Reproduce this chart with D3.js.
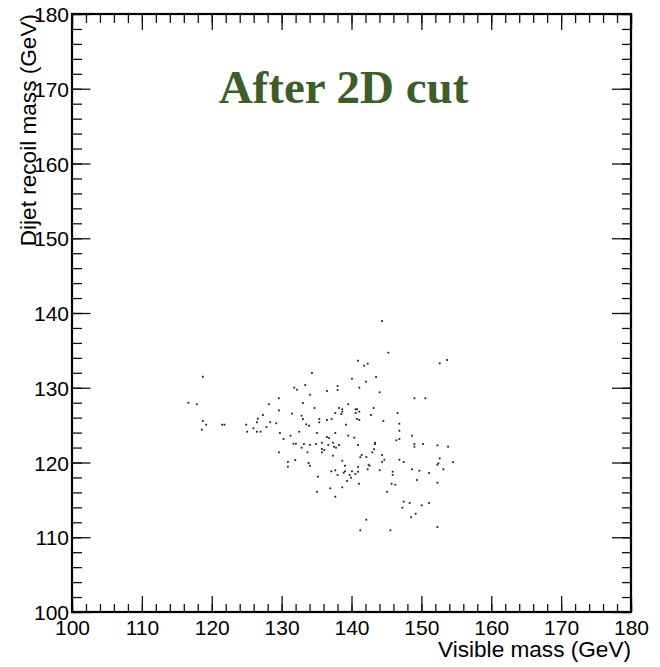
<!DOCTYPE html>
<html><head><meta charset="utf-8">
<script src="https://cdn.jsdelivr.net/npm/d3@7"></script>
<style>html,body{margin:0;padding:0;background:#fff;}</style>
</head><body>
<svg id="c" width="660" height="667"></svg>
<script>
const visibleMass = [118.72,116.66,117.86,118.72,119.20,118.58,121.49,121.82,124.93,125.07,125.97,126.46,126.98,126.60,126.46,127.32,127.84,128.18,128.37,129.23,129.61,129.61,129.76,130.27,129.61,131.81,132.19,131.48,132.52,131.27,131.70,132.05,131.95,130.90,130.90,
144.37,145.27,140.93,141.79,142.31,143.51,140.07,134.34,133.38,138.01,142.08,141.12,138.01,136.49,144.03,134.05,133.05,139.54,134.71,138.21,140.59,140.79,138.68,143.17,141.12,138.68,137.68,140.59,138.54,146.60,132.85,142.79,133.05,135.39,136.49,137.15,140.79,141.12,135.39,144.56,133.52,133.91,139.21,146.85,146.85,
135.06,137.68,139.54,140.40,136.49,136.78,146.85,146.42,143.37,143.37,133.19,134.05,134.91,135.77,137.35,138.21,136.68,137.49,137.78,140.93,132.85,135.77,136.10,143.22,142.98,133.71,135.77,137.35,141.45,141.26,142.12,144.37,144.70,144.37,146.85,138.68,133.85,134.05,139.07,140.93,142.45,142.59,142.31,144.03,
137.11,137.68,139.07,138.87,140.07,140.93,138.01,139.73,140.54,145.89,145.89,139.93,135.20,139.36,141.07,145.74,146.27,138.68,136.96,135.06,145.09,137.68,142.12,141.26,145.56,
153.68,152.62,149.00,150.57,148.67,149.00,149.00,150.24,152.29,153.82,147.46,152.62,152.44,152.29,154.54,148.67,149.71,151.10,153.15,149.38,152.29,147.46,148.32,150.04,151.10,147.28,149.18,148.52,152.29];
const recoilMass = [131.48,128.00,127.79,125.55,125.06,124.39,125.06,125.06,125.06,124.12,124.58,124.12,124.12,125.86,125.38,126.35,124.75,127.79,125.38,125.24,128.59,126.98,123.95,123.14,121.36,130.01,129.74,126.53,124.12,123.59,122.52,122.52,120.33,120.07,119.44,
138.93,134.69,133.62,132.95,133.22,131.44,131.21,131.97,130.37,130.23,130.81,130.01,129.70,129.57,129.39,129.07,127.96,127.79,127.29,127.29,127.12,127.12,127.12,127.29,126.80,126.80,126.62,126.62,126.49,126.62,126.26,126.35,125.82,125.82,125.69,125.82,125.82,125.69,125.38,125.55,125.11,124.92,125.06,125.19,124.25,
123.95,123.95,123.59,123.32,123.41,123.28,123.14,122.97,122.65,122.47,122.47,122.34,122.47,122.65,122.65,122.34,122.34,122.11,121.98,122.34,121.98,121.81,121.67,121.77,121.36,121.36,121.36,120.91,121.00,120.70,120.74,121.00,120.37,120.07,120.37,120.24,119.93,119.57,119.57,119.40,119.71,119.57,119.09,118.96,
118.82,118.96,118.82,118.64,118.82,118.77,118.33,118.33,118.46,118.77,118.33,117.97,118.10,117.53,117.16,117.16,117.03,116.68,116.55,116.09,116.09,115.42,112.35,110.93,110.93,
133.71,133.27,128.59,128.59,123.59,122.47,122.11,122.47,122.30,122.11,120.07,120.56,119.89,119.71,120.07,119.09,118.90,118.60,119.09,117.66,117.30,114.76,114.58,114.27,114.58,113.95,113.15,112.67,111.37];
const xTicks = [100,110,120,130,140,150,160,170,180];
const yTicks = [100,110,120,130,140,150,160,170,180];
const xDomain = [100,180];
const yDomain = [100,180];
const titleText = "After 2D cut";
const xTitle = "Visible mass (GeV)";
const yTitle = "Dijet recoil mass (GeV)";

const L = 72, R = 631, T = 14, B = 612;
const svg = d3.select("#c");
const x = d3.scaleLinear().domain(xDomain).range([L, R]);
const y = d3.scaleLinear().domain(yDomain).range([B, T]);
const minorX = d3.range(xDomain[0], xDomain[1] + 0.001, 2);
const minorY = d3.range(yDomain[0], yDomain[1] + 0.001, 2);

const fontTick = "'Liberation Sans', Arial, Helvetica, sans-serif";
function drawAxis(gen, tr, labels) {
  const g = svg.append("g").attr("transform", tr).call(gen);
  g.select(".domain").remove();
  g.selectAll(".tick line").attr("stroke", "#111").attr("stroke-width", 1.3);
  if (!labels) g.selectAll(".tick text").remove();
  else g.selectAll(".tick text").attr("font-family", fontTick).attr("font-size", 21).attr("fill", "#000");
  return g;
}
// minor ticks
drawAxis(d3.axisTop(x).tickValues(minorX).tickSize(8).tickFormat(""), `translate(0,${B})`, false);
drawAxis(d3.axisBottom(x).tickValues(minorX).tickSize(9).tickFormat(""), `translate(0,${T})`, false);
drawAxis(d3.axisRight(y).tickValues(minorY).tickSize(10).tickFormat(""), `translate(${L},0)`, false);
drawAxis(d3.axisLeft(y).tickValues(minorY).tickSize(9).tickFormat(""), `translate(${R},0)`, false);
// major ticks
drawAxis(d3.axisTop(x).tickValues(xTicks).tickSize(16).tickFormat(""), `translate(0,${B})`, false);
drawAxis(d3.axisBottom(x).tickValues(xTicks).tickSize(16).tickFormat(""), `translate(0,${T})`, false);
drawAxis(d3.axisRight(y).tickValues(yTicks).tickSize(18.5).tickFormat(""), `translate(${L},0)`, false);
drawAxis(d3.axisLeft(y).tickValues(yTicks).tickSize(19).tickFormat(""), `translate(${R},0)`, false);
// tick labels
const gx = drawAxis(d3.axisBottom(x).tickValues(xTicks).tickSize(0).tickPadding(0).tickFormat(d3.format("d")), `translate(0,${B})`, true);
gx.selectAll(".tick text").attr("dy", null).attr("y", 23);
const gy = drawAxis(d3.axisLeft(y).tickValues(yTicks).tickSize(0).tickPadding(3).tickFormat(d3.format("d")), `translate(${L},0)`, true);
gy.selectAll(".tick text").attr("dy", "0.36em");

// frame
svg.append("rect").attr("x", L).attr("y", T).attr("width", R - L).attr("height", B - T)
  .attr("fill", "none").attr("stroke", "#000").attr("stroke-width", 2.2);

// points
svg.append("g").selectAll("rect.pt").data(visibleMass.map((v, i) => [v, recoilMass[i]]))
  .join("rect").attr("class", "pt")
  .attr("x", d => x(d[0]) - 0.9).attr("y", d => y(d[1]) - 0.9)
  .attr("width", 1.8).attr("height", 1.8).attr("fill", "#222");

// title
svg.append("text").attr("x", (L + R) / 2 - 8).attr("y", 103).attr("text-anchor", "middle")
  .attr("font-family", "'Liberation Serif', 'Times New Roman', serif").attr("font-weight", "bold")
  .attr("font-size", 47).attr("fill", "#3b5e2b").text(titleText);

// axis titles
svg.append("text").attr("x", R).attr("y", 657).attr("text-anchor", "end")
  .attr("font-family", fontTick).attr("font-size", 22.6).attr("fill", "#000").text(xTitle);
svg.append("text").attr("transform", `translate(36,${T}) rotate(-90)`).attr("text-anchor", "end")
  .attr("font-family", fontTick).attr("font-size", 22.6).attr("fill", "#000").text(yTitle);
</script>
</body></html>
